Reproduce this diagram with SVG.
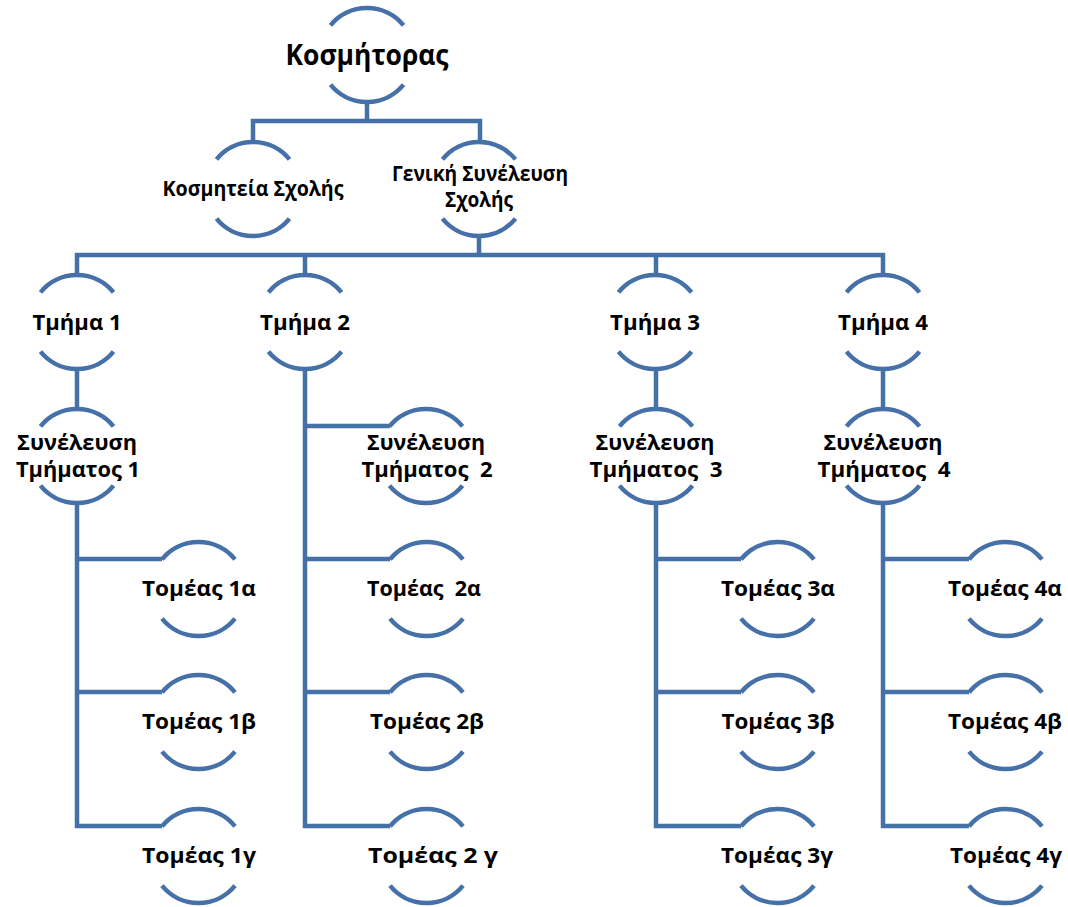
<svg xmlns="http://www.w3.org/2000/svg" xmlns:xlink="http://www.w3.org/1999/xlink" width="1068" height="907" viewBox="0 0 1068 907">
<style>
.arc{fill:none;stroke:#4670A8;stroke-width:4.5}
.con{fill:none;stroke:#4670A8;stroke-width:4.5;stroke-linejoin:miter}
text{font-family:"Open Sans","Noto Sans","DejaVu Sans",sans-serif;font-weight:bold;fill:#000;text-anchor:middle;font-size:21px}
.big{font-size:28px}
</style>
<defs>
<path id="ring" d="M-36.5,-29.6 A47,47 0 0 1 36.5,-29.6 M-36.5,29.6 A47,47 0 0 0 36.5,29.6"/>
</defs>
<rect width="1068" height="907" fill="#fff"/>
<g id="connectors">
<path class="con" d="M253,142 V121 H480 V142 M367,102 V121"/>
<path class="con" d="M77,275 V255 H883 V275 M305,255 V275 M656,255 V275 M479,236 V255"/>
<path class="con" d="M77,369 V409 M656,369 V409 M883,369 V409"/>
<path class="con" d="M77,503 V826 H162 M77,559 H162 M77,692 H162"/>
<path class="con" d="M305,369 V826 H390 M305,426 H390 M305,559 H390 M305,692 H390"/>
<path class="con" d="M656,503 V826 H741 M656,559 H741 M656,692 H741"/>
<path class="con" d="M883,503 V826 H969 M883,559 H969 M883,692 H969"/>
</g>
<g id="kosmitoras"><use xlink:href="#ring" class="arc" x="367" y="55"/><text class="big" x="367" y="65" textLength="163" lengthAdjust="spacingAndGlyphs">Κοσμήτορας</text></g>
<g id="kosmiteia"><use xlink:href="#ring" class="arc" x="253" y="189"/><text x="253" y="196" textLength="181" lengthAdjust="spacingAndGlyphs">Κοσμητεία Σχολής</text></g>
<g id="geniki"><use xlink:href="#ring" class="arc" x="479" y="189"/><text x="480" y="181" textLength="176" lengthAdjust="spacingAndGlyphs">Γενική Συνέλευση</text><text x="479" y="207" textLength="68" lengthAdjust="spacingAndGlyphs">Σχολής</text></g>
<g id="tmima1"><use xlink:href="#ring" class="arc" x="77" y="322"/><text x="77" y="330" textLength="89" lengthAdjust="spacingAndGlyphs">Τμήμα 1</text></g>
<g id="tmima2"><use xlink:href="#ring" class="arc" x="305" y="322"/><text x="305" y="330" textLength="90" lengthAdjust="spacingAndGlyphs">Τμήμα 2</text></g>
<g id="tmima3"><use xlink:href="#ring" class="arc" x="655" y="322"/><text x="655" y="330" textLength="90" lengthAdjust="spacingAndGlyphs">Τμήμα 3</text></g>
<g id="tmima4"><use xlink:href="#ring" class="arc" x="883" y="322"/><text x="883" y="330" textLength="90" lengthAdjust="spacingAndGlyphs">Τμήμα 4</text></g>
<g id="synelefsi1"><use xlink:href="#ring" class="arc" x="77" y="456"/><text x="77" y="450" textLength="120" lengthAdjust="spacingAndGlyphs">Συνέλευση</text><text x="78" y="477" textLength="124" lengthAdjust="spacingAndGlyphs">Τμήματος 1</text></g>
<g id="synelefsi2"><use xlink:href="#ring" class="arc" x="426" y="456"/><text x="426" y="450" textLength="118" lengthAdjust="spacingAndGlyphs">Συνέλευση</text><text x="427" y="477" textLength="131" lengthAdjust="spacingAndGlyphs" xml:space="preserve">Τμήματος  2</text></g>
<g id="synelefsi3"><use xlink:href="#ring" class="arc" x="656" y="456"/><text x="655" y="450" textLength="119" lengthAdjust="spacingAndGlyphs">Συνέλευση</text><text x="656" y="477" textLength="133" lengthAdjust="spacingAndGlyphs" xml:space="preserve">Τμήματος  3</text></g>
<g id="synelefsi4"><use xlink:href="#ring" class="arc" x="883" y="456"/><text x="883" y="450" textLength="119" lengthAdjust="spacingAndGlyphs">Συνέλευση</text><text x="884" y="477" textLength="133" lengthAdjust="spacingAndGlyphs" xml:space="preserve">Τμήματος  4</text></g>
<g id="tomeas1a"><use xlink:href="#ring" class="arc" x="198.5" y="589"/><text x="199" y="596" textLength="114" lengthAdjust="spacingAndGlyphs">Τομέας 1α</text></g>
<g id="tomeas1b"><use xlink:href="#ring" class="arc" x="198.5" y="722"/><text x="199" y="729" textLength="114" lengthAdjust="spacingAndGlyphs">Τομέας 1β</text></g>
<g id="tomeas1c"><use xlink:href="#ring" class="arc" x="198.5" y="856"/><text x="199" y="863" textLength="114" lengthAdjust="spacingAndGlyphs">Τομέας 1γ</text></g>
<g id="tomeas2a"><use xlink:href="#ring" class="arc" x="426.5" y="589"/><text x="424" y="596" textLength="114" lengthAdjust="spacingAndGlyphs" xml:space="preserve">Τομέας  2α</text></g>
<g id="tomeas2b"><use xlink:href="#ring" class="arc" x="426.5" y="722"/><text x="427" y="729" textLength="114" lengthAdjust="spacingAndGlyphs">Τομέας 2β</text></g>
<g id="tomeas2c"><use xlink:href="#ring" class="arc" x="426.5" y="856"/><text x="433" y="863" textLength="130" lengthAdjust="spacingAndGlyphs">Τομέας 2 γ</text></g>
<g id="tomeas3a"><use xlink:href="#ring" class="arc" x="777.5" y="589"/><text x="778" y="596" textLength="114" lengthAdjust="spacingAndGlyphs">Τομέας 3α</text></g>
<g id="tomeas3b"><use xlink:href="#ring" class="arc" x="777.5" y="722"/><text x="778" y="729" textLength="113" lengthAdjust="spacingAndGlyphs">Τομέας 3β</text></g>
<g id="tomeas3c"><use xlink:href="#ring" class="arc" x="777.5" y="856"/><text x="777" y="863" textLength="112" lengthAdjust="spacingAndGlyphs">Τομέας 3γ</text></g>
<g id="tomeas4a"><use xlink:href="#ring" class="arc" x="1005.5" y="589"/><text x="1005" y="596" textLength="114" lengthAdjust="spacingAndGlyphs">Τομέας 4α</text></g>
<g id="tomeas4b"><use xlink:href="#ring" class="arc" x="1005.5" y="722"/><text x="1005" y="729" textLength="114" lengthAdjust="spacingAndGlyphs">Τομέας 4β</text></g>
<g id="tomeas4c"><use xlink:href="#ring" class="arc" x="1005.5" y="856"/><text x="1006" y="863" textLength="112" lengthAdjust="spacingAndGlyphs">Τομέας 4γ</text></g>
</svg>
